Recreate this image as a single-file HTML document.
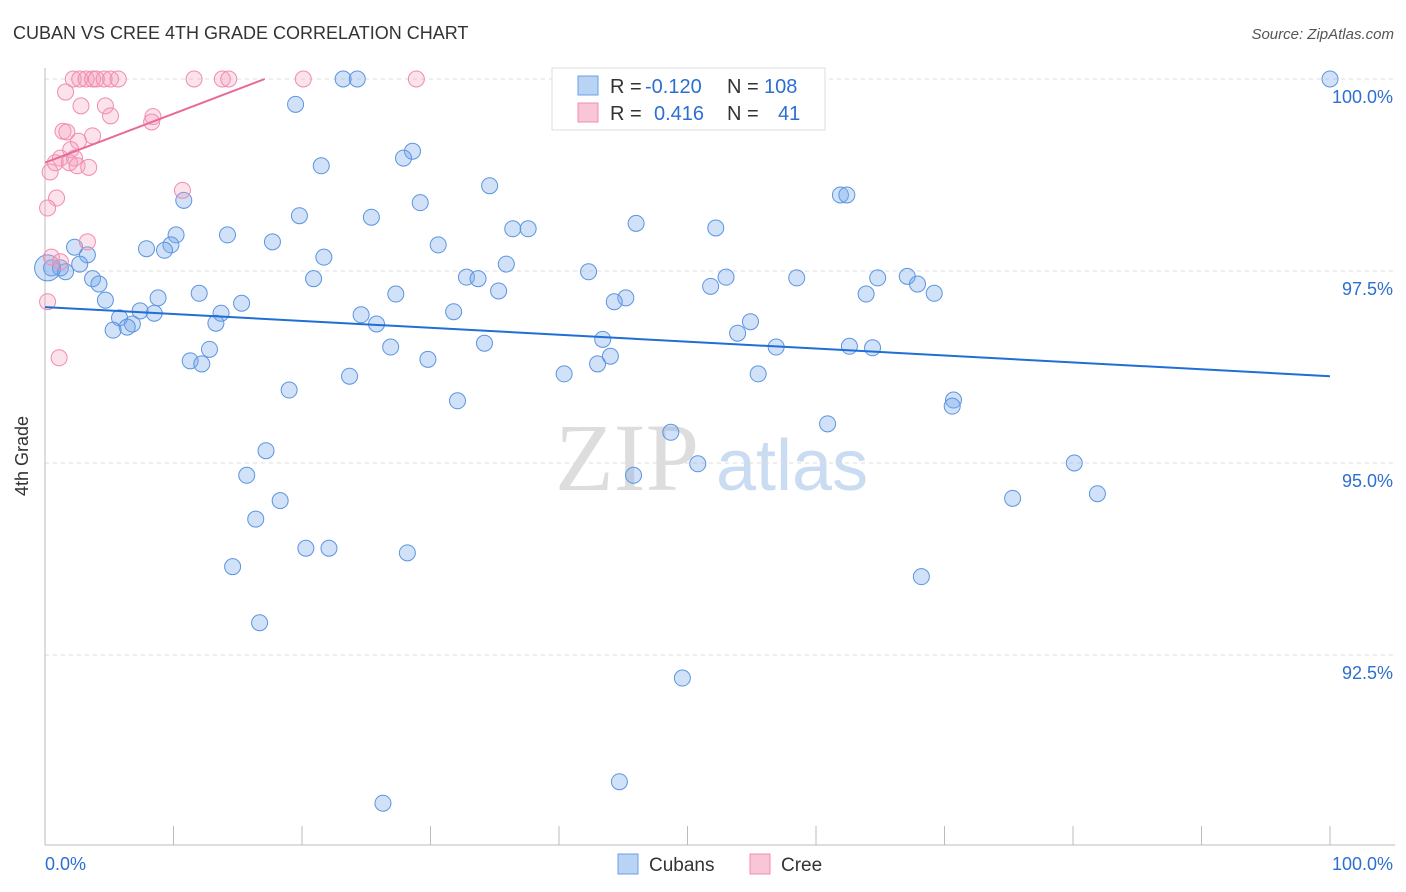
<!DOCTYPE html>
<html><head><meta charset="utf-8"><style>
body{margin:0;background:#fff;font-family:"Liberation Sans",sans-serif}
svg{display:block}
</style></head><body>
<svg id="chart" width="1406" height="892">
<text x="13" y="39" font-size="18" fill="#333">CUBAN VS CREE 4TH GRADE CORRELATION CHART</text>
<text x="1394" y="39" font-size="15" fill="#555" font-style="italic" text-anchor="end">Source: ZipAtlas.com</text>
<g>
<text x="555" y="490" font-size="96" fill="#ddd" font-family="Liberation Serif">ZIP</text>
<text x="716" y="490" font-size="72" fill="#c9dcf2">atlas</text>
</g>
<g id="grid"></g><g id="axes"></g><g id="pts"></g><g id="lines"></g>
<text x="28" y="456" font-size="18" fill="#333" transform="rotate(-90 28 456)" text-anchor="middle">4th Grade</text>
<g>
<rect x="552" y="68" width="273" height="62" fill="#fff" stroke="#ddd"/>
<rect x="578" y="76" width="20" height="19" fill="#b8d3f4" stroke="#6aa0e6"/>
<rect x="578" y="103" width="20" height="19" fill="#f9c6d8" stroke="#f08cb0"/>
<text font-size="20" fill="#333"><tspan x="610" y="93">R =</tspan><tspan x="645" fill="#2c6fd1">-0.120</tspan><tspan x="727">N =</tspan><tspan x="764" fill="#2c6fd1">108</tspan></text>
<text font-size="20" fill="#333"><tspan x="610" y="120">R =</tspan><tspan x="654" fill="#2c6fd1">0.416</tspan><tspan x="727">N =</tspan><tspan x="778" fill="#2c6fd1">41</tspan></text>
</g>
<g>
<rect x="618" y="854" width="20" height="20" fill="#b8d3f4" stroke="#6aa0e6"/>
<text x="649" y="871" font-size="19" fill="#333">Cubans</text>
<rect x="750" y="854" width="20" height="20" fill="#f9c6d8" stroke="#f08cb0"/>
<text x="781" y="871" font-size="19" fill="#333">Cree</text>
</g>
</svg>
<script>
const yTicks=[100,97.5,95,92.5];
const yTickLabels=["100.0%","97.5%","95.0%","92.5%"];
const xEndLabels=["0.0%","100.0%"];
const cubanX=[100,23.2,24.3,19.5,28.6,27.9,21.5,34.6,61.9,62.4,10.8,29.2,19.8,25.4,46.0,36.4,37.6,52.2,14.2,10.2,17.7,30.6,2.3,7.9,9.8,9.3,3.3,21.7,35.9,42.3,0.5,1.2,1.6,2.7,32.8,33.7,53.0,58.5,64.8,67.1,3.7,4.2,20.9,35.3,51.8,67.9,12.0,27.3,63.9,69.2,8.8,4.7,15.3,45.2,44.3,31.8,13.7,7.4,8.5,24.6,5.8,13.3,25.8,6.8,6.4,5.3,54.9,53.9,43.4,34.2,26.9,56.9,62.6,64.4,12.8,44.0,29.8,11.3,12.2,43.0,40.4,55.5,23.7,19.0,32.1,70.7,70.6,60.9,48.7,17.2,50.8,80.1,15.7,45.8,18.3,75.3,81.9,16.4,20.3,22.1,28.2,14.6,68.2,16.7,49.6,44.7,26.3,0.2];
const cubanY=[100,100,100,99.67,99.06,98.97,98.87,98.61,98.49,98.49,98.42,98.39,98.22,98.20,98.12,98.05,98.05,98.06,97.97,97.97,97.88,97.84,97.81,97.79,97.84,97.77,97.71,97.68,97.59,97.49,97.54,97.54,97.49,97.59,97.42,97.40,97.42,97.41,97.41,97.43,97.40,97.33,97.40,97.24,97.30,97.33,97.21,97.20,97.20,97.21,97.15,97.12,97.08,97.15,97.10,96.97,96.95,96.98,96.95,96.93,96.89,96.82,96.81,96.81,96.77,96.73,96.84,96.69,96.61,96.56,96.51,96.51,96.52,96.50,96.48,96.39,96.35,96.33,96.29,96.29,96.16,96.16,96.13,95.95,95.81,95.82,95.74,95.51,95.40,95.16,94.99,95.0,94.84,94.84,94.51,94.54,94.60,94.27,93.89,93.89,93.83,93.65,93.52,92.92,92.20,90.85,90.57,97.54];
const creeX=[2.2,2.7,3.2,3.7,4.0,4.6,5.1,5.7,11.6,13.8,14.3,20.1,28.9,1.6,2.8,4.7,5.1,8.4,8.3,1.4,1.7,3.7,2.6,2.0,1.2,2.3,0.8,1.9,2.5,3.4,0.4,10.7,0.9,0.2,3.3,0.5,1.2,0.2,1.1];
const creeY=[100,100,100,100,100,100,100,100,100,100,100,100,100,99.83,99.65,99.65,99.52,99.51,99.44,99.32,99.31,99.26,99.19,99.08,98.97,98.97,98.91,98.91,98.87,98.85,98.79,98.55,98.45,98.32,97.88,97.68,97.62,97.10,96.37];
const cubanTrend=[97.03,96.13]; // y at x=0 and x=100
const creeTrend=[98.91,100];   // y at x=0 and end x
const creeTrendEndX=17.1;

const NS="http://www.w3.org/2000/svg";
const X0=45,X1=1330,YTOP=79,PXPER=76.8;
const sx=v=>X0+(X1-X0)*v/100;
const sy=v=>YTOP+(100-v)*PXPER;
function mk(tag,attrs,parent){const e=document.createElementNS(NS,tag);for(const k in attrs)e.setAttribute(k,attrs[k]);parent.appendChild(e);return e;}
const grid=document.getElementById('grid'),axes=document.getElementById('axes'),pts=document.getElementById('pts'),lines=document.getElementById('lines');
yTicks.forEach((t,i)=>{
 const l=mk('line',{x1:45,x2:1395,y1:sy(t),y2:sy(t),stroke:'#ddd','stroke-dasharray':'4,4'},grid);
 
 
 const tx=mk('text',{x:1393,y:sy(t)+24,'font-size':18,fill:'#2c6fd1','text-anchor':'end'},grid);
 tx.textContent=yTickLabels[i];
 
 
});
const ya=mk('line',{x1:45,x2:45,y1:68,y2:845,stroke:'#bbb'},axes);


const xa=mk('line',{x1:45,x2:1395,y1:845,y2:845,stroke:'#bbb'},axes);


for(let i=0;i<=10;i++){
 const t=mk('line',{x1:sx(i*10),x2:sx(i*10),y1:826,y2:845,stroke:'#bbb'},axes);
 
 
}
[[0,'start',45],[100,'end',1393]].forEach((a,i)=>{
 const t=mk('text',{x:a[2],y:870,'font-size':18,fill:'#2c6fd1','text-anchor':a[1]},axes);
 t.textContent=xEndLabels[i];
 
 
});
cubanX.forEach((x,i)=>{
 const c=mk('circle',{cx:sx(x),cy:sy(cubanY[i]),r:(i==cubanX.length-1?13:8),fill:'rgba(120,170,235,0.35)',stroke:'#5b95e0','stroke-width':1},pts);
 
 
});
creeX.forEach((x,i)=>{
 const c=mk('circle',{cx:sx(x),cy:sy(creeY[i]),r:8,fill:'rgba(245,160,190,0.3)',stroke:'#f08cb0','stroke-width':1},pts);
 
 
});
const bl=mk('line',{x1:sx(0),y1:sy(cubanTrend[0]),x2:sx(100),y2:sy(cubanTrend[1]),stroke:'#1f6fd6','stroke-width':2},lines);


const pl=mk('line',{x1:sx(0),y1:sy(creeTrend[0]),x2:sx(creeTrendEndX),y2:sy(creeTrend[1]),stroke:'#e8699a','stroke-width':2},lines);


</script>
</body></html>
